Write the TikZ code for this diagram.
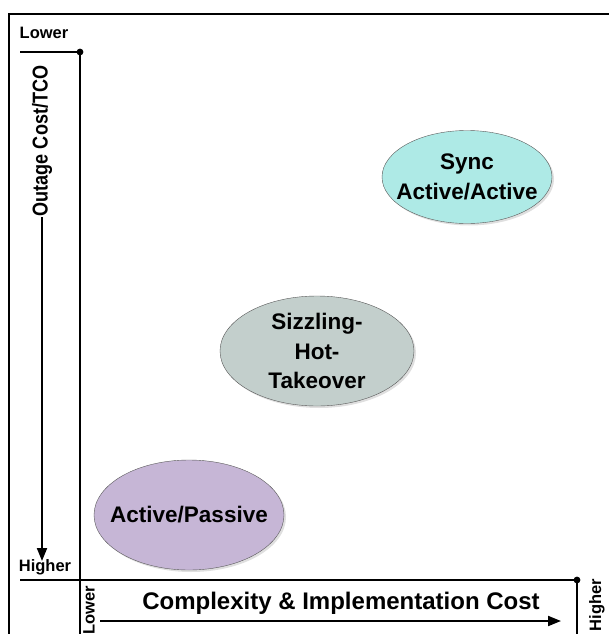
\documentclass[tikz,border=0pt]{standalone}
\usepackage{fontspec}
\setmainfont{Liberation Sans}
\usetikzlibrary{shapes.geometric, arrows.meta, shadows}

\definecolor{syncfill}{HTML}{AEEAE6}
\definecolor{hotfill}{HTML}{C3CFCC}
\definecolor{passfill}{HTML}{C6B6D6}

\begin{document}
\begin{tikzpicture}[x=1pt,y=-1pt]
\tikzset{approach/.style={ellipse, draw=black!65, thin, inner sep=0pt,
    drop shadow={opacity=.25, shadow xshift=2pt, shadow yshift=-2pt}},
  approachtext/.style={align=center, inner sep=0pt, font=\bfseries\fontsize{22.5}{29.5}\selectfont},
  axislab/.style={font=\bfseries\fontsize{24}{28}\selectfont, inner sep=1pt},
  endlab/.style={font=\bfseries\fontsize{16.5}{18}\selectfont, inner sep=0pt},
  arrow/.style={line width=2pt, -{Triangle[length=13pt,width=10pt]}},
  axis/.style={line width=2.4pt}}
\useasboundingbox (0,0) rectangle (609,634);

%frame round the chart
\draw[line width=2.2pt] (9,634) -- (9,14) -- (609,14);

%axis lines with their corner dots
\coordinate (topdot) at (80,52);
\coordinate (cornerdot) at (577,580);
\draw[axis] (20,52) -- (topdot) -- (80,634);
\draw[axis] (20,580) -- (cornerdot) -- (577,634);
\fill (topdot) circle (3.4);
\fill (cornerdot) circle (3.4);

%labels at the ends of the axes
\node[endlab] (ylow) at (44,33) {Lower};
\node[endlab] (yhigh) at (45,567) {Higher};
\node[endlab, rotate=90] (xlow) at (89,610) {Lower};
\node[endlab, rotate=90] (xhigh) at (597,605) {Higher};

%vertical axis: outage cost
\node[axislab, rotate=90, font=\bfseries\fontsize{21.5}{25}\selectfont] (ylab) at (42,141) {\scalebox{.84}[1]{Outage Cost/TCO}};
\coordinate (ytip) at (42,561);
\draw[arrow] (ylab.west) -- (ytip);

%horizontal axis: complexity
\node[axislab] (xlab) at (341,603) {Complexity \& Implementation Cost};
\coordinate (xstart) at (100,621);
\coordinate (xtip) at (561,621);
\draw[arrow] (xstart) -- (xtip);

%the three approaches
\node[approach, fill=syncfill, minimum width=170, minimum height=93] (sync) at (467,177) {};
\node[approachtext] (synctext) at (sync) {Sync\\Active/Active};
\node[approach, fill=hotfill, minimum width=194, minimum height=110] (hot) at (317,351) {};
\node[approachtext] (hottext) at (hot) {Sizzling-\\Hot-\\Takeover};
\node[approach, fill=passfill, minimum width=190, minimum height=110] (passive) at (189,515) {};
\node[approachtext] (passivetext) at (passive) {Active/Passive};

\end{tikzpicture}
\end{document}
